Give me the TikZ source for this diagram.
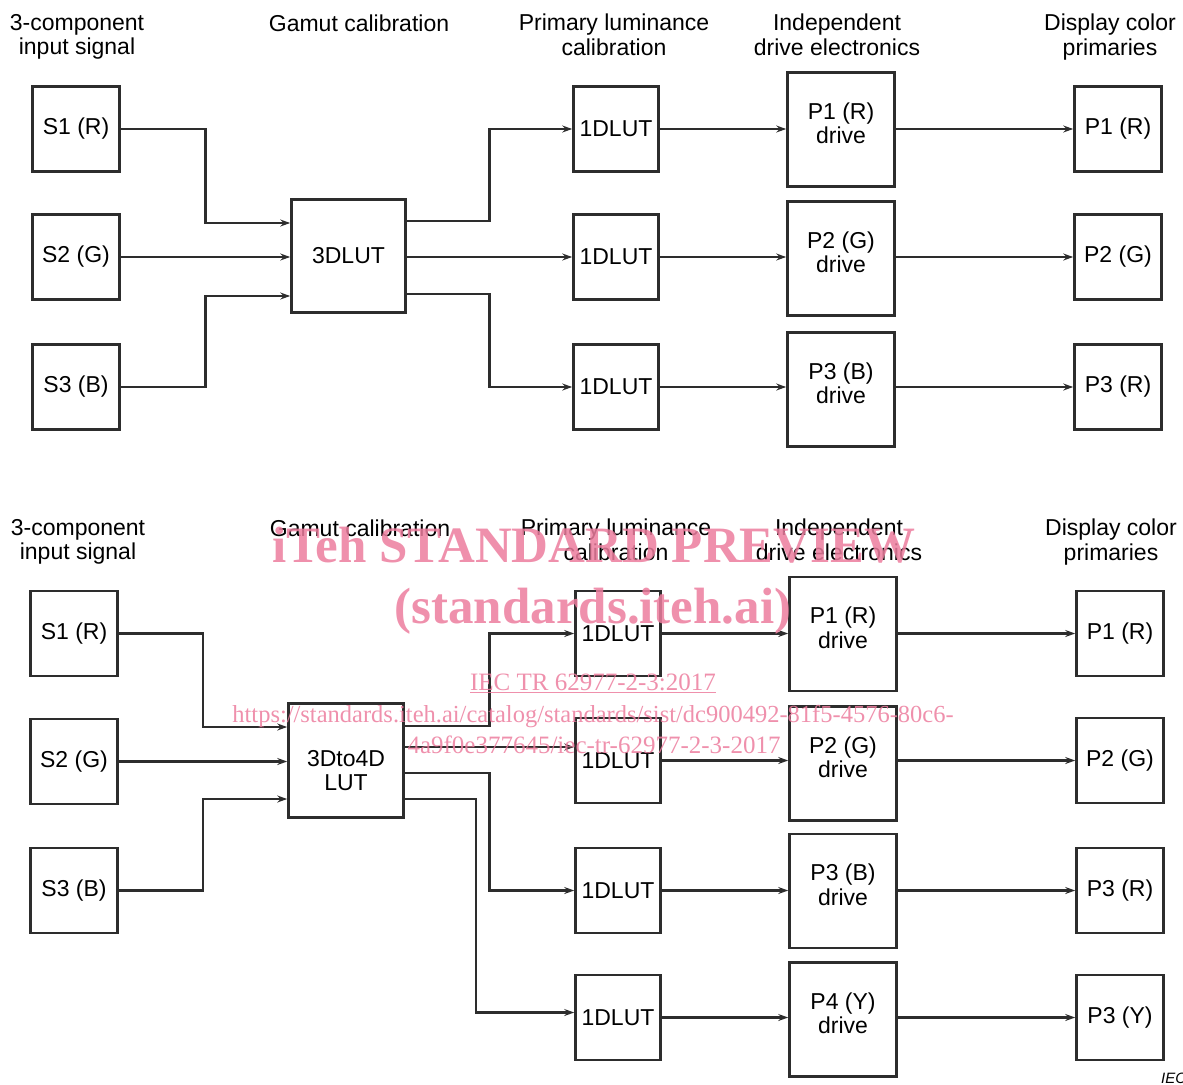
\documentclass[tikz,border=0pt]{standalone}
\usepackage{fontspec}
\setmainfont{Liberation Sans}
\newfontfamily\wmfont{Liberation Serif}
\usetikzlibrary{arrows.meta,calc}
\definecolor{wmpink}{RGB}{236,125,158}
\definecolor{ink}{RGB}{45,45,45}

\tikzset{
  blk/.style={draw=ink, line width=2.6pt, inner sep=0pt, align=center,
    font=\fontsize{23}{24.5}\selectfont},
  sig/.style={blk, minimum width=87pt, minimum height=85pt},
  lutbox/.style={blk, minimum width=114pt, minimum height=113pt},
  onelut/.style={blk, minimum width=85pt, minimum height=85pt},
  drv/.style={blk, minimum width=107pt, minimum height=114pt, text depth=13pt},
  prim/.style={blk, minimum width=87pt, minimum height=85pt},
  head/.style={align=center, inner sep=0pt, font=\fontsize{23}{24.5}\selectfont},
  flow/.style={draw=ink, line width=2.3pt, -{Stealth[length=10pt,width=7pt]}},
  wm/.style={text=wmpink, opacity=0.85, inner sep=0pt, anchor=base},
}

\begin{document}
\begin{tikzpicture}[x=1pt, y=-1pt]
\useasboundingbox (0,0) rectangle (1183,1084);
% ---------------- upper chart: 3DLUT ----------------
% column headings
\node[head] (hin)   at (77,37)   {3-component\\input signal};
\node[head, anchor=base] (hgam) at (359,31) {Gamut calibration};
\node[head] (hlum)  at (614,35)  {Primary luminance\\calibration};
\node[head] (hdrv)  at (837,35)  {Independent\\drive electronics};
\node[head] (hdisp) at (1110,37) {Display color\\primaries};
% rows of boxes
\foreach \n/\y/\dy/\s/\q/\p in {1/129/129.5/S1 (R)/P1 (R)/P1 (R),
                                2/257/258.5/S2 (G)/P2 (G)/P2 (G),
                                3/387/389.5/S3 (B)/P3 (B)/P3 (R)} {
  \node[sig]    (s\n) at (76,\y)   {\s};
  \node[onelut] (o\n) at (616,\y)  {1DLUT};
  \node[drv]    (d\n) at (841,\dy) {\q\\drive};
  \node[prim]   (p\n) at (1118,\y) {\p};
  \draw[flow] (o\n.east) -- (o\n.east -| d\n.west);
  \draw[flow] (o\n.east -| d\n.east) -- (o\n.east -| p\n.west);
}
\node[lutbox] (lut) at (348.5,256) {3DLUT};
\coordinate (lut-i1) at ($(lut.west)+(0,-33)$);
\coordinate (lut-i3) at ($(lut.west)+(0,40)$);
\coordinate (lut-o1) at ($(lut.east)+(0,-35)$);
\coordinate (lut-o3) at ($(lut.east)+(0,38)$);
% signals into the 3DLUT
\draw[flow] (s1.east) -| ($(s1.east)!.5!(lut-i1)$) |- (lut-i1);
\draw[flow] (s2.east) -- (s2.east -| lut.west);
\draw[flow] (s3.east) -| ($(s3.east)!.5!(lut-i3)$) |- (lut-i3);
% 3DLUT out to the 1DLUTs
\draw[flow] (lut-o1) -| ($(lut-o1)!.5!(o1.west)$) |- (o1.west);
\draw[flow] (lut.east |- o2.west) -- (o2.west);
\draw[flow] (lut-o3) -| ($(lut-o3)!.5!(o3.west)$) |- (o3.west);

% ---------------- lower chart: 3Dto4D LUT ----------------
% column headings
\node[head] (hinb)   at (78,542)   {3-component\\input signal};
\node[head, anchor=base] (hgamb) at (360,536) {Gamut calibration};
\node[head] (hlumb)  at (616,540)  {Primary luminance\\calibration};
\node[head] (hdrvb)  at (839,540)  {Independent\\drive electronics};
\node[head] (hdispb) at (1111,542) {Display color\\primaries};
% input boxes
\foreach \n/\y/\s in {1/633.5/S1 (R), 2/761.5/S2 (G), 3/890.5/S3 (B)}
  \node[sig] (sb\n) at (74,\y) {\s};
% four output rows
\foreach \n/\y/\dy/\q/\p in {1/633.5/634/P1 (R)/P1 (R),
                             2/760.5/763.5/P2 (G)/P2 (G),
                             3/890.5/891/P3 (B)/P3 (R),
                             4/1017.5/1019.5/P4 (Y)/P3 (Y)} {
  \node[onelut] (ob\n) at (618,\y)  {1DLUT};
  \node[drv]    (db\n) at (843,\dy) {\q\\drive};
  \node[prim]   (pb\n) at (1120,\y) {\p};
  \draw[flow] (ob\n.east) -- (ob\n.east -| db\n.west);
  \draw[flow] (ob\n.east -| db\n.east) -- (ob\n.east -| pb\n.west);
}
\node[lutbox, minimum width=115pt, minimum height=114pt, text height=61pt] (lutb) at (346,760.5) {3Dto4D\\LUT};
\coordinate (lutb-i1) at ($(lutb.west)+(0,-33.5)$);
\coordinate (lutb-i3) at ($(lutb.west)+(0,38.5)$);
\coordinate (lutb-o1) at ($(lutb.east)+(0,-34.5)$);
\coordinate (lutb-o2) at ($(lutb.east)+(0,-13.5)$);
\coordinate (lutb-o3) at ($(lutb.east)+(0,12.5)$);
\coordinate (lutb-o4) at ($(lutb.east)+(0,38.5)$);
\coordinate (ob4-in)  at ($(ob4.west)+(0,-5)$);
% signals into the 3Dto4D LUT
\draw[flow] (sb1.east) -| ($(sb1.east)!.5!(lutb-i1)$) |- (lutb-i1);
\draw[flow] (sb2.east) -- (sb2.east -| lutb.west);
\draw[flow] (sb3.east) -| ($(sb3.east)!.5!(lutb-i3)$) |- (lutb-i3);
% 3Dto4D LUT out to the 1DLUTs
\draw[flow] (lutb-o1) -| ($(lutb-o1)!.5!(ob1.west)$) |- (ob1.west);
\draw[flow] (lutb-o2) -- (lutb-o2 -| ob2.west);
\draw[flow] (lutb-o3) -| ($(lutb-o3)!.5!(ob3.west)$) |- (ob3.west);
\draw[flow] (lutb-o4) -| ($(lutb-o4)!.42!(ob4-in)$) |- (ob4-in);

\node[anchor=base west, inner sep=0pt, font=\itshape\fontsize{15}{15}\selectfont] (iec) at (1161,1083) {IEC};

% watermark
\node[wm, font=\wmfont\bfseries\fontsize{51}{51}\selectfont] (wm1) at (594,562) {iTeh STANDARD PREVIEW};
\node[wm, font=\wmfont\bfseries\fontsize{51}{51}\selectfont] (wm2) at (593,623) {(standards.iteh.ai)};
\node[wm, font=\wmfont\fontsize{25}{25}\selectfont] (wm3) at (593,690) {\underline{IEC TR 62977-2-3:2017}};
\node[wm, font=\wmfont\fontsize{24.5}{25}\selectfont] (wm4) at (593,722) {https://standards.iteh.ai/catalog/standards/sist/dc900492-81f5-4576-80c6-};
\node[wm, font=\wmfont\fontsize{25}{25}\selectfont] (wm5) at (594,753) {4a9f0e377645/iec-tr-62977-2-3-2017};
\end{tikzpicture}
\end{document}
